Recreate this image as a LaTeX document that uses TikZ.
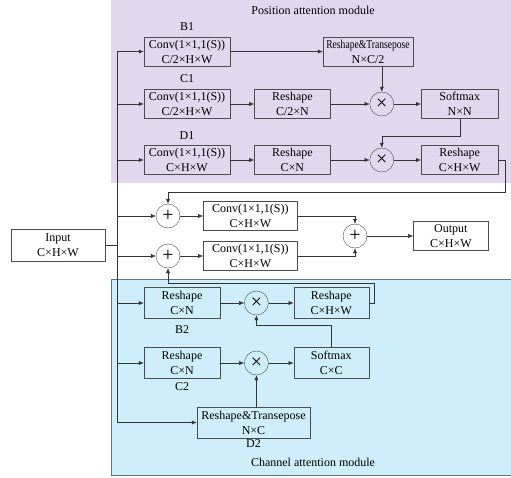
\documentclass[tikz,border=0pt]{standalone}
\usepackage{fontspec}
\setmainfont{Liberation Serif}
\usepackage{graphicx}
\usepackage{tikz}
\usetikzlibrary{positioning,arrows.meta}
\definecolor{posbg}{RGB}{227,215,237}
\definecolor{chanbg}{RGB}{205,238,250}
\definecolor{chanline}{RGB}{95,120,130}
\begin{document}
\begin{tikzpicture}[
x=1pt,y=-1pt,
font=\fontsize{12}{15}\selectfont,
box/.style={draw=black!70,align=center,minimum height=29pt,inner sep=1pt},
op/.style={draw=black!70,circle,minimum size=24pt,inner sep=0pt,font=\fontsize{20}{20}\selectfont},
arrow/.style={-{Latex[length=5pt,width=4pt]},draw=black!80},
line/.style={draw=black!80}
]
\useasboundingbox (0,0) rectangle (511,477);
\fill[posbg] (111,0) rectangle (511,183);
\filldraw[fill=chanbg,draw=chanline] (111,279) rectangle (511,475);
\node (postitle) at (313,10) {Position attention module};
\node (chantitle) at (313,462) {Channel attention module};

% position attention
\node[box,minimum width=86pt] (b1conv) at (187,51.5) {Conv(1×1,1(S))\\C/2×H×W};
\node[box,minimum width=90pt] (b1rt) at (368,51.5) {\scalebox{0.8}[1]{Reshape\&Transepose}\\N×C/2};
\node[box,minimum width=86pt] (c1conv) at (187,104) {Conv(1×1,1(S))\\C/2×H×W};
\node[box,minimum width=76pt,right=24pt of c1conv] (c1resh) {Reshape\\C/2×N};
\node[op,right=39pt of c1resh] (c1mul) {×};
\node[box,minimum width=77pt,right=27pt of c1mul] (c1soft) {Softmax\\N×N};
\node[box,minimum width=86pt] (d1conv) at (187,160) {Conv(1×1,1(S))\\C×H×W};
\node[box,minimum width=76pt,right=24pt of d1conv] (d1resh) {Reshape\\C×N};
\node[op,right=39pt of d1resh] (d1mul) {×};
\node[box,minimum width=77pt,right=27pt of d1mul] (d1resh2) {Reshape\\C×H×W};
\node[above=3pt of b1conv] (b1lab) {B1};
\node[above=3pt of c1conv] (c1lab) {C1};
\node[above=2pt of d1conv] (d1lab) {D1};

% fusion
\node[box,minimum width=94pt,minimum height=32pt] (input) at (58,245) {Input\\C×H×W};
\coordinate (trunk) at (117,245);
\node[op] (add1) at (168,216) {+};
\node[op] (add2) at (168,256) {+};
\node[box,minimum width=94pt,right=23pt of add1] (conv1) {Conv(1×1,1(S))\\C×H×W};
\node[box,minimum width=94pt,right=23pt of add2] (conv2) {Conv(1×1,1(S))\\C×H×W};
\node[op] (addout) at (355,236) {+};
\node[box,minimum width=75pt,right=46pt of addout] (output) {Output\\C×H×W};

% channel attention
\node[box,minimum width=76pt,minimum height=31pt] (b2resh) at (182,303) {Reshape\\C×N};
\node[op,right=24pt of b2resh] (b2mul) {×};
\node[box,minimum width=75pt,minimum height=31pt,right=25pt of b2mul] (b2resh2) {Reshape\\C×H×W};
\node[box,minimum width=76pt,minimum height=31pt] (c2resh) at (182,363) {Reshape\\C×N};
\node[op,right=24pt of c2resh] (c2mul) {×};
\node[box,minimum width=75pt,minimum height=31pt,right=25pt of c2mul] (c2soft) {Softmax\\C×C};
\node[box,minimum width=113pt,minimum height=31pt] (d2rt) at (253.5,422.5) {Reshape\&Transepose\\N×C};
\node[below=3pt of b2resh] (b2lab) {B2};
\node[below=0pt of c2resh] (c2lab) {C2};
\node[below=-2pt of d2rt] (d2lab) {D2};

% connectors
\draw[line] (input) -- (trunk);
\draw[line] (trunk |- b1conv.west) -- (trunk |- d2rt.west);
\foreach \n in {b1conv,c1conv,d1conv,add1,add2,b2resh,c2resh,d2rt}
  \draw[arrow] (trunk |- \n.west) -- (\n.west);
\draw[arrow] (b1conv) -- (b1rt);
\draw[arrow] (b1rt.south -| c1mul) -- (c1mul);
\draw[arrow] (c1conv) -- (c1resh);
\draw[arrow] (c1resh) -- (c1mul);
\draw[arrow] (c1mul) -- (c1soft);
\draw[arrow] (c1soft.south) -- ++(0,17) -| (d1mul.north);
\draw[arrow] (d1conv) -- (d1resh);
\draw[arrow] (d1resh) -- (d1mul);
\draw[arrow] (d1mul) -- (d1resh2);
\draw[arrow] (d1resh2.east) -| ++(7,32) -| (add1.north);
\draw[arrow] (add1) -- (conv1);
\draw[arrow] (add2) -- (conv2);
\draw[arrow] (conv1.east) -| (addout.north);
\draw[arrow] (conv2.east) -| (addout.south);
\draw[arrow] (addout) -- (output);
\draw[arrow] (b2resh) -- (b2mul);
\draw[arrow] (b2mul) -- (b2resh2);
\draw[arrow] (b2resh2.east) -| ++(5,-20) -| (add2.south);
\draw[arrow] (c2resh) -- (c2mul);
\draw[arrow] (c2mul) -- (c2soft);
\draw[arrow] (c2soft.north) -- ++(0,-22) -| (b2mul.south);
\draw[arrow] (d2rt.north -| c2mul) -- (c2mul.south);
\end{tikzpicture}
\end{document}
